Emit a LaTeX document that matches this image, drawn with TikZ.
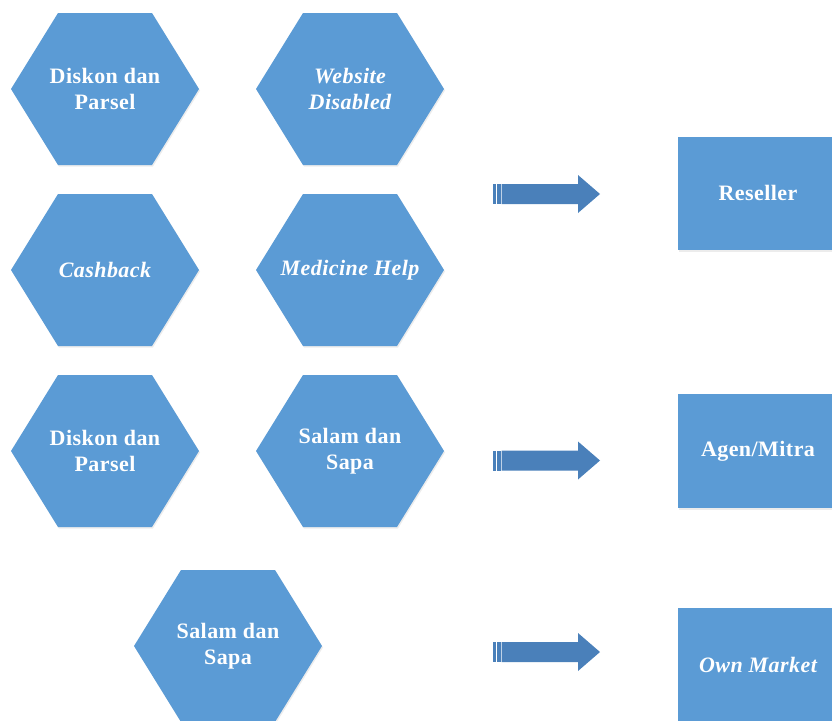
\documentclass[tikz,border=0pt]{standalone}
\usepackage{fontspec}
\setmainfont{Liberation Serif}[LetterSpace=2]
\usetikzlibrary{shadows}
\definecolor{cellblue}{HTML}{5B9BD5}
\definecolor{arrowblue}{HTML}{4A80BA}
\tikzset{
  cell/.style={fill=cellblue, draw=none,
    drop shadow={shadow xshift=1pt, shadow yshift=-1.5pt, opacity=0.15}},
  celltext/.style={text=white, align=center, inner sep=0pt,
    font=\fontsize{22}{26}\selectfont\bfseries},
  stripe/.style={fill=arrowblue, draw=none},
}
% flat-topped hexagon (half-width 94, half-height 76) around a text node
\newcommand\hexcell[4]{%
  \fill[cell] (#2-94,#3) -- (#2-47,#3-76) -- (#2+47,#3-76) -- (#2+94,#3)
    -- (#2+47,#3+76) -- (#2-47,#3+76) -- cycle;
  \node[celltext] (#1) at (#2,#3) {#4};
}
% striped block arrow centred vertically on y, tip named #1
\newcommand\blockarrow[2]{%
  \fill[stripe] (493,#2-10) rectangle (495.5,#2+10);
  \fill[stripe] (496.5,#2-10) rectangle (500.5,#2+10);
  \fill[stripe] (501.5,#2-10) -- (578,#2-10) -- (578,#2-19) -- (600,#2)
    -- (578,#2+19) -- (578,#2+10) -- (501.5,#2+10) -- cycle;
  \coordinate (#1) at (600,#2);
}
\begin{document}
\begin{tikzpicture}[x=1pt,y=-1pt]
  \useasboundingbox (0,0) rectangle (832,720);
  \begin{scope}
  \clip (0,0) rectangle (832,720);

  \hexcell{h1}{105}{89}{Diskon dan\\Parsel}
  \hexcell{h2}{350}{89}{\itshape Website\\\itshape Disabled}
  \hexcell{h3}{105}{270}{\itshape Cashback}
  \hexcell{h4}{350}{270}{\itshape Medicine Help}
  \hexcell{h5}{105}{451}{Diskon dan\\Parsel}
  \hexcell{h6}{350}{451}{Salam dan\\Sapa}
  \hexcell{h7}{228}{646}{Salam dan\\Sapa}

  \blockarrow{a1}{194}
  \blockarrow{a2}{460.5}
  \blockarrow{a3}{652}

  \fill[cell] (678,137) rectangle (840,250);
  \node[celltext] (r1) at (758,193) {Reseller};
  \fill[cell] (678,394) rectangle (840,508);
  \node[celltext] (r2) at (758,451) {Agen/Mitra};
  \fill[cell] (678,608) rectangle (840,726);
  \node[celltext] (r3) at (758,665) {\itshape Own Market};
  \end{scope}
\end{tikzpicture}
\end{document}
